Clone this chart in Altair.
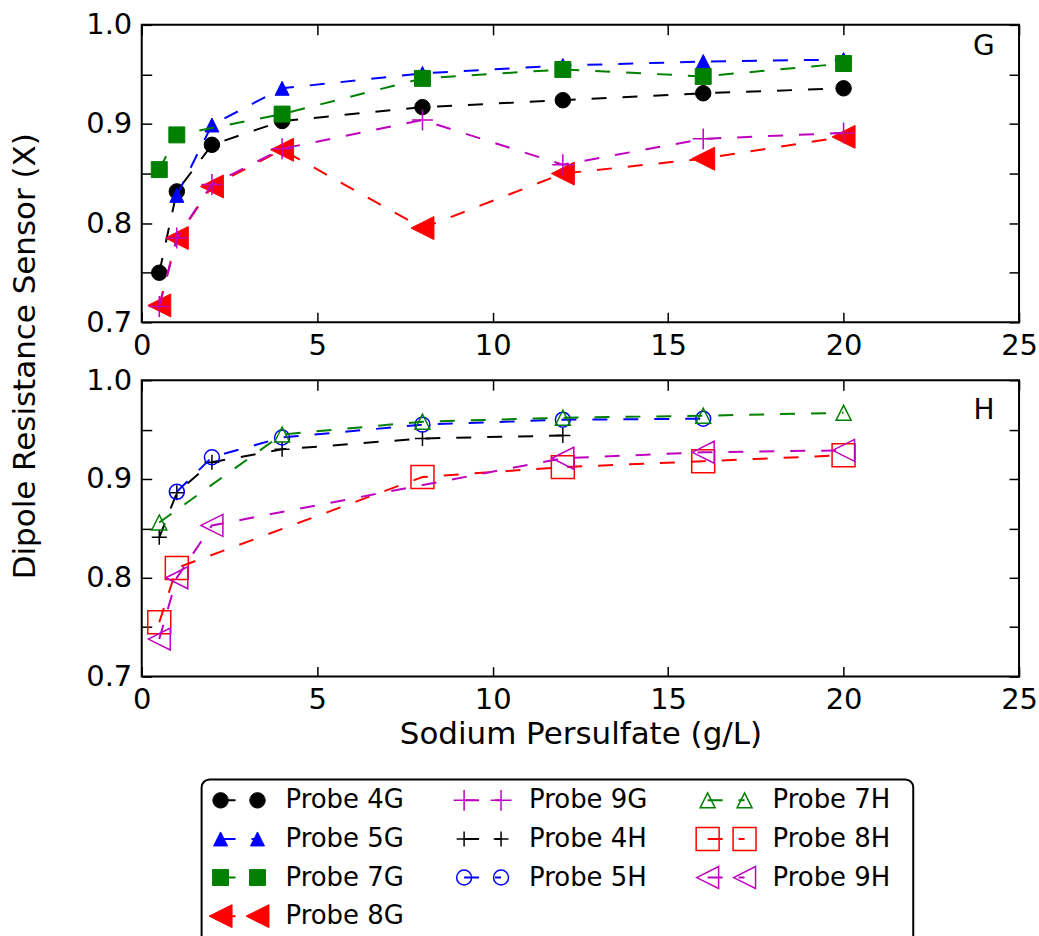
import altair as alt
import pandas as pd

FONT = "DejaVu Sans"

# ---------------- data ----------------
# Panel G
probe_4g_x = [0.5, 1, 2, 4, 8, 12, 16, 20]
probe_4g_y = [0.750, 0.832, 0.879, 0.903, 0.917, 0.924, 0.931, 0.936]
probe_5g_x = [1, 2, 4, 8, 12, 16, 20]
probe_5g_y = [0.828, 0.899, 0.936, 0.951, 0.959, 0.963, 0.965]
probe_7g_x = [0.5, 1, 4, 8, 12, 16, 20]
probe_7g_y = [0.854, 0.889, 0.910, 0.946, 0.955, 0.948, 0.961]
probe_8g_x = [0.5, 1, 2, 4, 8, 12, 16, 20]
probe_8g_y = [0.717, 0.785, 0.837, 0.874, 0.795, 0.850, 0.865, 0.887]
probe_9g_x = [0.5, 1, 2, 4, 8, 12, 16, 20]
probe_9g_y = [0.716, 0.785, 0.839, 0.875, 0.904, 0.859, 0.885, 0.891]

# Panel H
probe_4h_x = [0.5, 1, 2, 4, 8, 12]
probe_4h_y = [0.841, 0.886, 0.917, 0.930, 0.941, 0.944]
probe_5h_x = [1, 2, 4, 8, 12, 16]
probe_5h_y = [0.887, 0.922, 0.942, 0.955, 0.960, 0.961]
probe_7h_x = [0.5, 4, 8, 12, 16, 20]
probe_7h_y = [0.856, 0.945, 0.958, 0.962, 0.964, 0.967]
probe_8h_x = [0.5, 1, 8, 12, 16, 20]
probe_8h_y = [0.755, 0.810, 0.902, 0.912, 0.918, 0.924]
probe_9h_x = [0.5, 1, 2, 12, 16, 20]
probe_9h_y = [0.738, 0.800, 0.853, 0.921, 0.927, 0.929]

names_g = ["Probe 4G", "Probe 5G", "Probe 7G", "Probe 8G", "Probe 9G"]
names_h = ["Probe 4H", "Probe 5H", "Probe 7H", "Probe 8H", "Probe 9H"]
legend_order = names_g + names_h
x_ticks = [0, 5, 10, 15, 20, 25]
y_ticks = [0.70, 0.75, 0.80, 0.85, 0.90, 0.95, 1.00]
x_title = "Sodium Persulfate (g/L)"
y_title = "Dipole Resistance Sensor (X)"

series_xy = {
    "Probe 4G": (probe_4g_x, probe_4g_y),
    "Probe 5G": (probe_5g_x, probe_5g_y),
    "Probe 7G": (probe_7g_x, probe_7g_y),
    "Probe 8G": (probe_8g_x, probe_8g_y),
    "Probe 9G": (probe_9g_x, probe_9g_y),
    "Probe 4H": (probe_4h_x, probe_4h_y),
    "Probe 5H": (probe_5h_x, probe_5h_y),
    "Probe 7H": (probe_7h_x, probe_7h_y),
    "Probe 8H": (probe_8h_x, probe_8h_y),
    "Probe 9H": (probe_9h_x, probe_9h_y),
}

# ---------------- styles ----------------
TRI_UP = "M0,-1L-1,1L1,1Z"
TRI_LEFT = "M-1,0L1,-1L1,1Z"
PLUS = "M-1,0L1,0M0,-1L0,1"
STYLE = {
    # color, shape, size, filled
    "Probe 4G": ("#000000", "circle", 240, True),
    "Probe 5G": ("#0000ff", TRI_UP, 196, True),
    "Probe 7G": ("#008000", "square", 256, True),
    "Probe 8G": ("#ff0000", TRI_LEFT, 529, True),
    "Probe 9G": ("#bf00bf", PLUS, 441, False),
    "Probe 4H": ("#000000", PLUS, 225, False),
    "Probe 5H": ("#0000ff", "circle", 225, False),
    "Probe 7H": ("#008000", TRI_UP, 225, False),
    "Probe 8H": ("#ff0000", "square", 529, False),
    "Probe 9H": ("#bf00bf", TRI_LEFT, 484, False),
}
DASH = [15, 16]
TICK_FS = 29
TITLE_FS = 31
LEGEND_FS = 26

frames = {n: pd.DataFrame({"x": xs, "y": ys, "series": n}) for n, (xs, ys) in series_xy.items()}

XS = alt.Scale(domain=[0, 25], nice=False, zero=False)
YS = alt.Scale(domain=[0.7, 1.0], nice=False, zero=False)

TICK = dict(domain=False, grid=False, ticks=True, tickSize=10, tickWidth=1.5,
            tickColor="black", offset=-10)


def ax_bottom(title):
    kw = dict(orient="bottom", values=x_ticks, format="d", labelFontSize=TICK_FS,
              labelColor="black", labelPadding=9, labelFlush=False,
              labelOverlap=False, title="", **TICK)
    if title:
        kw.update(title=title, titleFontSize=TITLE_FS, titleFontWeight="normal",
                  titleColor="black", titleY=77, titleBaseline="alphabetic")
    return alt.Axis(**kw)


def ax_left(title):
    kw = dict(orient="left", values=y_ticks,
              labelExpr="round(datum.value*20) % 2 == 0 ? format(datum.value, '.1f') : ''",
              labelFontSize=TICK_FS, labelColor="black", labelPadding=10,
              labelFlush=False, labelOverlap=False, title="", **TICK)
    if title:
        kw.update(title=title, titleFontSize=TITLE_FS, titleFontWeight="normal",
                  titleColor="black", titleAngle=270, titleAlign="center",
                  titleBaseline="alphabetic", titleX=-117, titleY=331.5)
    return alt.Axis(**kw)


AX_TOP = alt.Axis(orient="top", values=x_ticks, labels=False, title="", **TICK)
AX_RIGHT = alt.Axis(orient="right", values=y_ticks, labels=False, title="", **TICK)


def point_kw(name):
    color, shape, size, filled = STYLE[name]
    kw = dict(shape=shape, size=size, opacity=1, stroke=color,
              strokeWidth=1 if filled else 1.5, filled=filled)
    if filled:
        kw["fill"] = color
    return kw


def panel(names, letter, letter_xy, height, xtitle, ytitle):
    layers = []
    for i, name in enumerate(names):
        color = STYLE[name][0]
        d = frames[name]
        first = i == 0
        ln = alt.Chart(d).mark_line(color=color, strokeDash=DASH, strokeWidth=2).encode(
            x=alt.X("x:Q", scale=XS, axis=ax_bottom(xtitle) if first else None),
            y=alt.Y("y:Q", scale=YS, axis=ax_left(ytitle) if first else None),
            order="x:Q",
        )
        pt = alt.Chart(d).mark_point(**point_kw(name)).encode(
            x=alt.X("x:Q", scale=XS, axis=AX_TOP if first else None),
            y=alt.Y("y:Q", scale=YS, axis=AX_RIGHT if first else None),
        )
        layers += [ln, pt]
    lab = alt.Chart(pd.DataFrame({"x": [letter_xy[0]], "y": [letter_xy[1]], "t": [letter]})).mark_text(
        fontSize=28, color="black", align="center", baseline="middle"
    ).encode(
        x=alt.X("x:Q", scale=XS, axis=None),
        y=alt.Y("y:Q", scale=YS, axis=None),
        text="t:N",
    )
    layers.append(lab)
    return alt.layer(*layers).resolve_axis(x="independent", y="independent").properties(
        width=879, height=height
    )


top = panel(names_g, "G", (24, 0.978), 298, None, y_title)
bottom = panel(names_h, "H", (24, 0.969), 297, x_title, None)

# ---------------- legend panel ----------------
leg_col, leg_row = [], []
for i, _ in enumerate(legend_order):
    if i < 4:
        leg_col.append(0); leg_row.append(i)
    elif i < 7:
        leg_col.append(1); leg_row.append(i - 4)
    else:
        leg_col.append(2); leg_row.append(i - 7)
leg_df = pd.DataFrame({"series": legend_order, "col": leg_col, "row": leg_row})

CS = alt.Scale(domain=[0, 2], range=[79, 567], nice=False, zero=False)
RS = alt.Scale(domain=[0, 3], range=[66, 182], nice=False, zero=False)

box = alt.Chart(pd.DataFrame({"k": [0]})).mark_rect(
    fill="white", stroke="black", strokeWidth=2, cornerRadius=8, clip=True
).encode(x=alt.value(60), x2=alt.value(773), y=alt.value(45), y2=alt.value(215))

leg_layers = [box]
for name in legend_order:
    color = STYLE[name][0]
    d = leg_df[leg_df.series == name]
    enc = dict(x=alt.X("col:Q", scale=CS, axis=None), y=alt.Y("row:Q", scale=RS, axis=None))
    rule = alt.Chart(d).mark_rule(color=color, strokeDash=DASH, strokeWidth=2, x2Offset=37).encode(
        x2="col:Q", **enc)
    m1 = alt.Chart(d).mark_point(**point_kw(name)).encode(**enc)
    m2 = alt.Chart(d).mark_point(xOffset=37, **point_kw(name)).encode(**enc)
    leg_layers += [rule, m1, m2]

leg_text = alt.Chart(leg_df).mark_text(
    align="left", baseline="middle", dx=65, fontSize=LEGEND_FS, color="black"
).encode(
    x=alt.X("col:Q", scale=CS, axis=None),
    y=alt.Y("row:Q", scale=RS, axis=None),
    text="series:N",
)
leg_layers.append(leg_text)

legend = alt.layer(*leg_layers).properties(
    width=879, height=202, view=alt.ViewBackground(stroke="transparent")
)

chart = alt.vconcat(top, bottom, legend, spacing=58, bounds="flush").configure(
    font=FONT,
    padding={"left": 9, "top": 9, "right": 0, "bottom": 0},
    background="white",
).configure_view(stroke="black", strokeWidth=2)

chart.save("out.html", embed_options={"renderer": "svg", "actions": False})
